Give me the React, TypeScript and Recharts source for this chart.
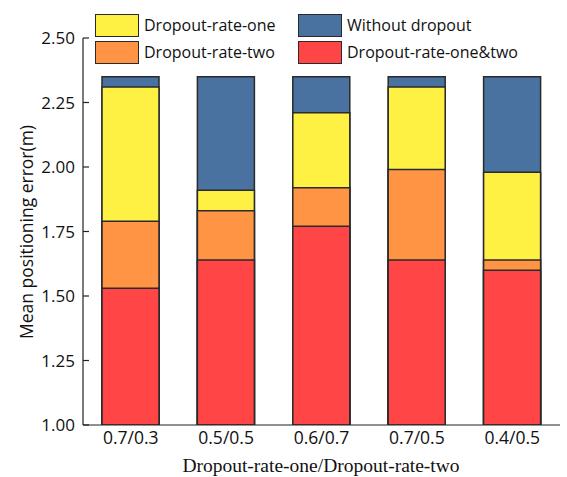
import { BarChart, Bar, XAxis, YAxis } from 'recharts'

// category labels
const categories = ['0.7/0.3', '0.5/0.5', '0.6/0.7', '0.7/0.5', '0.4/0.5']

// top value of each bar (m); bars overlap, all start at 1.00
const withoutDropout = [2.35, 2.35, 2.35, 2.35, 2.35]
const dropoutOne = [2.31, 1.91, 2.21, 2.31, 1.98]
const dropoutTwo = [1.79, 1.83, 1.92, 1.99, 1.64]
const dropoutBoth = [1.53, 1.64, 1.77, 1.64, 1.60]

const yTicks = [1.0, 1.25, 1.5, 1.75, 2.0, 2.25, 2.5]

const data = categories.map((c, i) => ({
  name: c,
  none: withoutDropout[i],
  one: dropoutOne[i],
  two: dropoutTwo[i],
  both: dropoutBoth[i],
}))

const legendItems = [
  { label: 'Dropout-rate-one', color: '#FFF044' },
  { label: 'Without dropout', color: '#4A72A0' },
  { label: 'Dropout-rate-two', color: '#FF9444' },
  { label: 'Dropout-rate-one&two', color: '#FF4545' },
]

const sans = '"Open Sans", sans-serif'
const edge = '#2a2a2a'

function YTick(props: any) {
  const { x, y, payload } = props
  return (
    <g>
      <line x1={x + 8} x2={x + 14} y1={y} y2={y} stroke="#222" strokeWidth={1.2} />
      <text x={x} y={y} dy={6} textAnchor="end" fontSize={17} fontFamily={sans} fill="#111">
        {Number(payload.value).toFixed(2)}
      </text>
    </g>
  )
}

function LegendBox() {
  return (
    <div style={{ position: 'absolute', left: 95, top: 13, display: 'grid', gridTemplateColumns: '203px 220px', rowGap: 3 }}>
      {legendItems.map(it => (
        <div key={it.label} style={{ display: 'flex', alignItems: 'center', height: 24 }}>
          <div style={{ width: 42, height: 21, background: it.color, border: `1.5px solid ${edge}` }} />
          <span style={{ marginLeft: 5, fontFamily: sans, fontSize: 16, color: '#111', whiteSpace: 'nowrap' }}>{it.label}</span>
        </div>
      ))}
    </div>
  )
}

export default function App() {
  return (
    <div style={{ position: 'absolute', left: 0, top: 0, width: 567, height: 477, background: '#fff' }}>
      <BarChart width={567} height={477} data={data} margin={{ top: 38, right: 7, bottom: 22, left: 0 }}>
        <XAxis
          xAxisId="main"
          dataKey="name"
          height={30}
          tick={{ fill: '#111', fontSize: 17.5, fontFamily: sans }}
          tickLine={false}
          axisLine={{ stroke: '#222', strokeWidth: 1.2 }}
          tickMargin={1}
          label={{
            content: () => (
              <text x={321} y={472} textAnchor="middle" fontFamily='"Liberation Serif", serif' fontSize={19.5} fill="#111">
                Dropout-rate-one/Dropout-rate-two
              </text>
            ),
          }}
        />
        <XAxis xAxisId="b" dataKey="name" hide height={0} />
        <XAxis xAxisId="c" dataKey="name" hide height={0} />
        <XAxis xAxisId="d" dataKey="name" hide height={0} />
        <YAxis
          width={83}
          domain={[1, 2.5]}
          ticks={yTicks}
          allowDataOverflow
          tickLine={false}
          tickSize={0}
          tickMargin={8}
          axisLine={{ stroke: '#222', strokeWidth: 1.2 }}
          tick={<YTick />}
          label={{
            content: () => (
              <text x={28} y={232} transform="rotate(-90 28 232)" textAnchor="middle" dominantBaseline="middle"
                fontFamily={sans} fontSize={17.5} fill="#111">
                Mean positioning error(m)
              </text>
            ),
          }}
        />
        <Bar xAxisId="main" dataKey="none" name="Without dropout" fill="#4A72A0" stroke={edge} strokeWidth={1.5} barSize={57} isAnimationActive={false} />
        <Bar xAxisId="b" dataKey="one" name="Dropout-rate-one" fill="#FFF044" stroke={edge} strokeWidth={1.5} barSize={57} isAnimationActive={false} />
        <Bar xAxisId="c" dataKey="two" name="Dropout-rate-two" fill="#FF9444" stroke={edge} strokeWidth={1.5} barSize={57} isAnimationActive={false} />
        <Bar xAxisId="d" dataKey="both" name="Dropout-rate-one&two" fill="#FF4545" stroke={edge} strokeWidth={1.5} barSize={57} isAnimationActive={false} />
      </BarChart>
      <LegendBox />
    </div>
  )
}
